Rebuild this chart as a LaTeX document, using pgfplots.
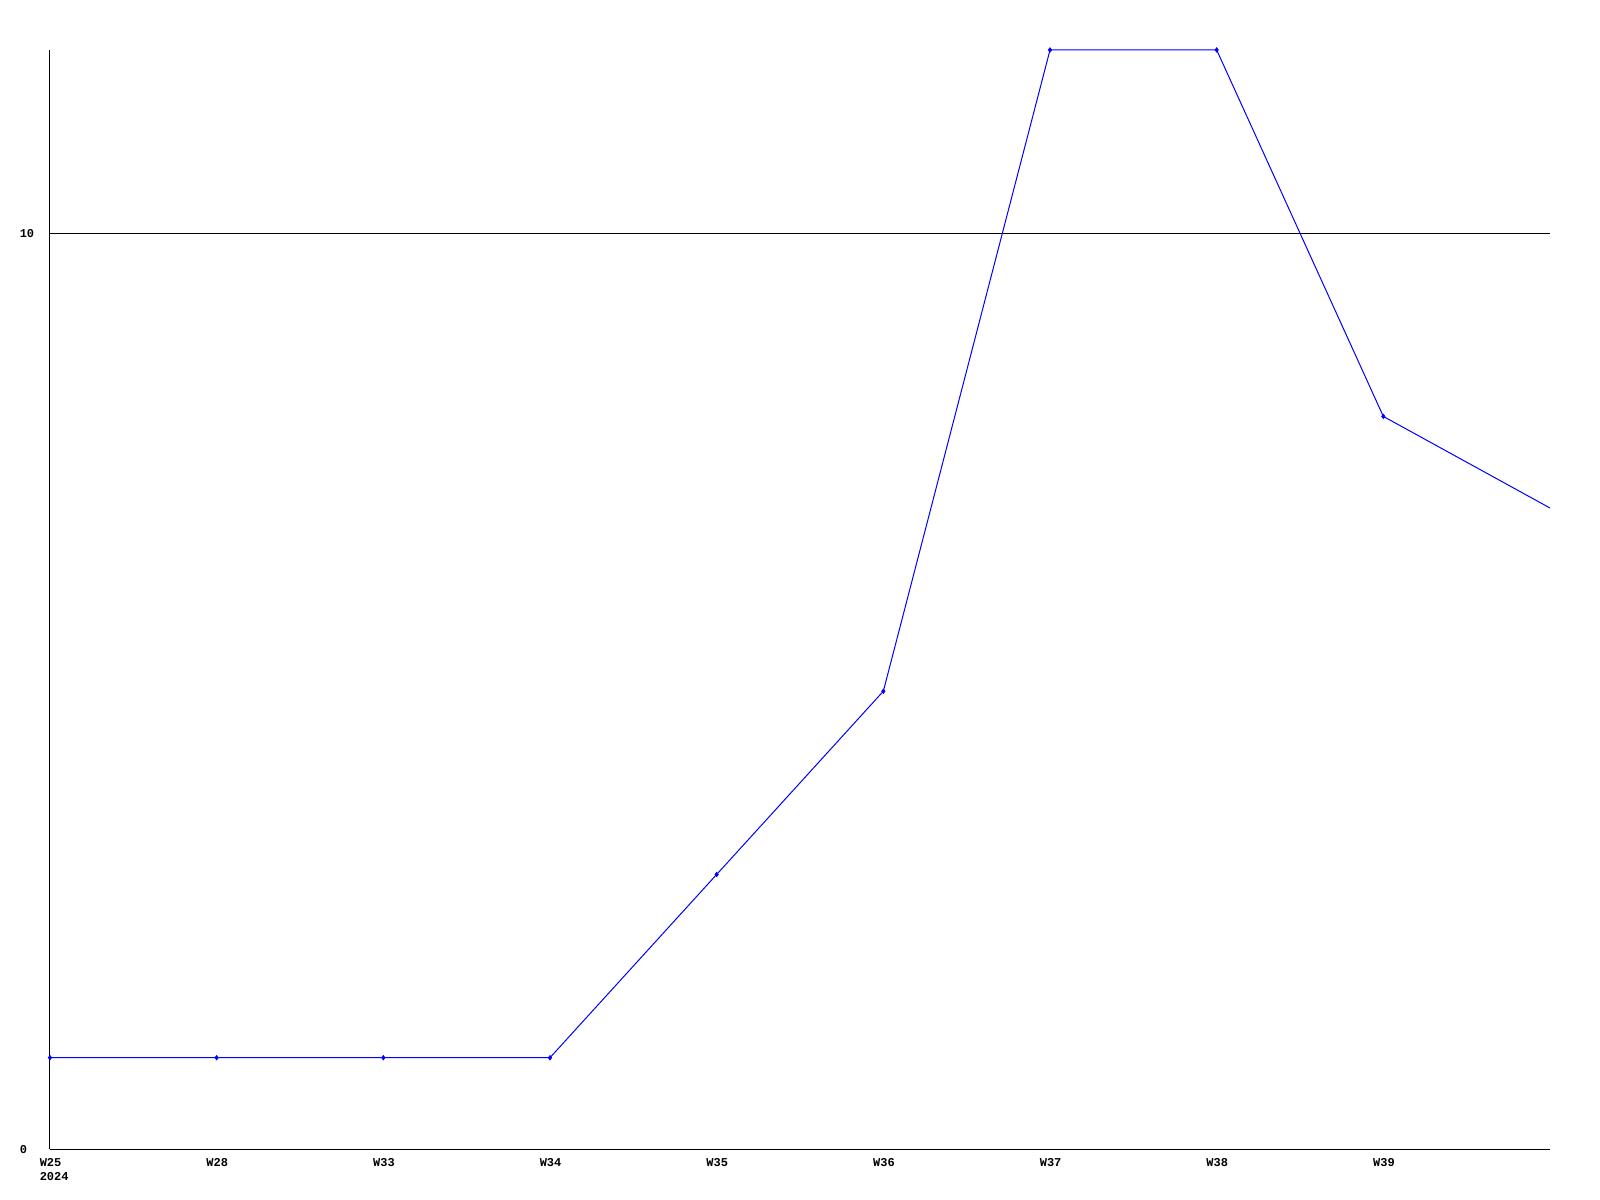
\documentclass[border=0pt]{standalone}
\usepackage{fontspec}
\setmonofont{Liberation Mono}
\usepackage{pgfplots}
\pgfplotsset{compat=1.18}
\begin{document}
\begin{tikzpicture}
\useasboundingbox (-12.5pt,-12.5pt) rectangle (387.75pt,287.5pt);
\begin{axis}[
  at={(0,0)}, anchor=south west,
  scale only axis,
  width=375.25pt, height=275pt,
  xmin=0, xmax=9, ymin=0, ymax=12,
  axis x line=bottom, axis y line=left,
  axis line style={-, line width=0.25pt, black},
  xtick={0,1,2,3,4,5,6,7,8},
  xticklabels={{W25\\2024},W28,W33,W34,W35,W36,W37,W38,W39},
  ytick={0,10},
  major tick length=0pt,
  ymajorgrids,
  grid style={black, line width=0.25pt},
  /pgf/number format/assume math mode=true,
  ticklabel style={font=\fontsize{3}{3.4}\selectfont\ttfamily\bfseries},
  xticklabel style={align=left, anchor=north west, inner sep=0pt, yshift=-2.2pt, xshift=-2.75pt},
  yticklabel style={anchor=west, inner sep=0pt, xshift=-7.75pt},
  clip=false,
]
\addplot[color={rgb,255:red,0;green,0;blue,255}, line width=0.25pt, mark=diamond*, mark size=0.5pt, mark options={solid}]
coordinates {(0,1) (1,1) (2,1) (3,1) (4,3) (5,5) (6,12) (7,12) (8,8)};
\addplot[color={rgb,255:red,0;green,0;blue,255}, line width=0.25pt]
coordinates {(8,8) (9,7)};
\end{axis}
\end{tikzpicture}
\end{document}
